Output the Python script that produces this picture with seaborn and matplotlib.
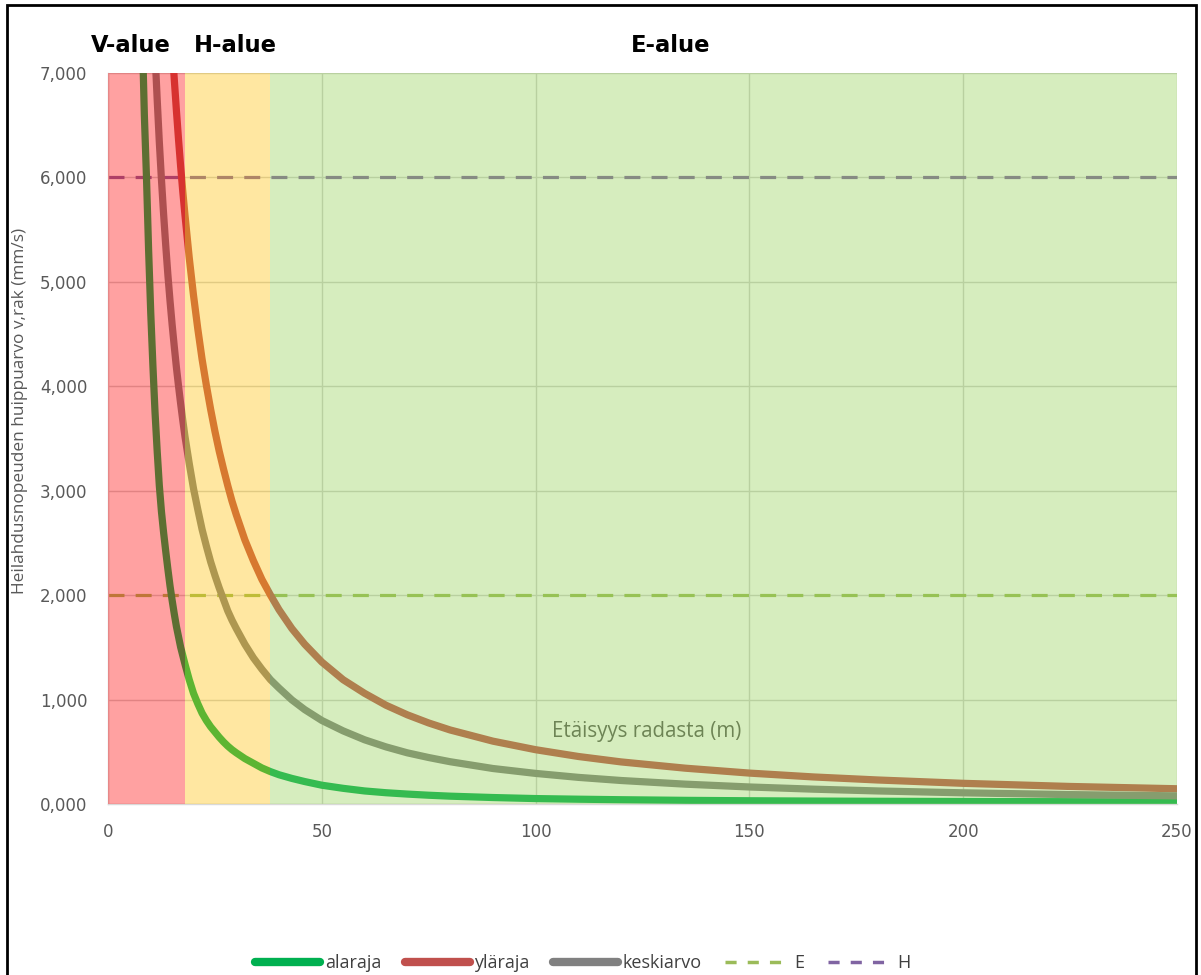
import matplotlib
matplotlib.use("Agg")
import matplotlib.pyplot as plt
import seaborn as sns
import pandas as pd
from matplotlib.lines import Line2D
from matplotlib.patches import Rectangle
from matplotlib.ticker import MultipleLocator

# ---- data ----
distance = [8, 8.5, 9, 9.5, 10, 10.5, 11, 11.5, 12, 12.5, 13, 13.5, 14, 14.5, 15, 15.5,
            16, 16.5, 17, 17.5, 18, 19, 20, 21, 22, 23, 24, 25, 26, 27, 28, 29, 30,
            32, 34, 36, 38, 40, 43, 46, 50, 55, 60, 65, 70, 75, 80,
            90, 100, 110, 120, 135, 150, 165, 180, 200, 225, 250]
alaraja = [7.40, 6.60, 6.00, 5.30, 4.70, 4.20, 3.75, 3.38, 3.05, 2.80, 2.60, 2.42, 2.25,
           2.09, 1.95, 1.82, 1.70, 1.60, 1.50, 1.42, 1.34, 1.19, 1.06, 0.96, 0.87, 0.80,
           0.74, 0.69, 0.64, 0.595, 0.555, 0.52, 0.49,
           0.435, 0.39, 0.345, 0.31, 0.28, 0.245, 0.215, 0.18, 0.15, 0.125, 0.108, 0.095,
           0.084, 0.075,
           0.062, 0.052, 0.046, 0.041, 0.035, 0.031, 0.028, 0.026, 0.024, 0.022, 0.020]
ylaraja = [17.4, 15.99, 14.77, 13.71, 12.76, 11.93, 11.18, 10.51, 9.90, 9.36, 8.86, 8.41,
           7.99, 7.61, 7.26, 6.94, 6.64, 6.36, 6.10, 5.86, 5.64, 5.23, 4.87, 4.55, 4.26,
           4.01, 3.78, 3.57, 3.38, 3.21, 3.05, 2.90, 2.77,
           2.53, 2.33, 2.15, 2.00, 1.86, 1.68, 1.53, 1.36, 1.19, 1.06, 0.946, 0.854,
           0.776, 0.709,
           0.602, 0.520, 0.455, 0.403, 0.343, 0.296, 0.259, 0.230, 0.198, 0.168, 0.146]
keskiarvo = [11.42, 10.45, 9.62, 8.90, 8.26, 7.70, 7.19, 6.75, 6.34, 5.98, 5.65, 5.35,
             5.07, 4.82, 4.59, 4.38, 4.18, 4.00, 3.83, 3.67, 3.52, 3.26, 3.02, 2.82,
             2.63, 2.47, 2.32, 2.19, 2.07, 1.96, 1.85, 1.76, 1.68,
             1.53, 1.40, 1.29, 1.19, 1.11, 0.997, 0.904, 0.80, 0.70, 0.615, 0.547, 0.49,
             0.445, 0.405,
             0.34, 0.293, 0.255, 0.225, 0.190, 0.163, 0.142, 0.125, 0.107, 0.090, 0.078]
series_names = ["alaraja", "yläraja", "keskiarvo"]
series_colors = ["#00B050", "#C0504D", "#808080"]
limit_names = ["E", "H"]
limit_values = [2.0, 6.0]
limit_colors = ["#9BBB59", "#8064A2"]
zone_names = ["V-alue", "H-alue", "E-alue"]
zone_edges = [0, 18, 38, 250]
zone_colors = ["#FF0000", "#FFC000", "#92D050"]
x_ticks = [0, 50, 100, 150, 200, 250]
y_ticks = [0, 1, 2, 3, 4, 5, 6, 7]
y_tick_labels = ["0,000", "1,000", "2,000", "3,000", "4,000", "5,000", "6,000", "7,000"]
x_title = "Etäisyys radasta (m)"
y_title = "Heilahdusnopeuden huippuarvo v,rak (mm/s)"

n = len(distance)
df = pd.DataFrame({
    "distance": distance * 3,
    "value": alaraja + ylaraja + keskiarvo,
    "series": [series_names[0]] * n + [series_names[1]] * n + [series_names[2]] * n,
})

sns.set_style("white")
plt.rcParams["font.family"] = ["DejaVu Sans"]

W, H = 1201, 975
fig = plt.figure(figsize=(W / 100, H / 100), dpi=100)
ax = fig.add_axes([108 / W, 1 - 804 / H, (1177 - 108) / W, (804 - 73) / H])

sns.lineplot(data=df, x="distance", y="value", hue="series", hue_order=series_names,
             palette=dict(zip(series_names, series_colors)), linewidth=5.2,
             legend=False, ax=ax, zorder=2, estimator=None, sort=True)
for ln in ax.lines:
    ln.set_solid_joinstyle("round")
    ln.set_solid_capstyle("round")

for val, col in zip(limit_values, limit_colors):
    ax.axhline(val, color=col, linewidth=2.3, dashes=(5, 3.5), zorder=1.8)

for i, col in enumerate(zone_colors):
    ax.axvspan(zone_edges[i], zone_edges[i + 1], color=col, alpha=0.37, lw=0, zorder=3)

ax.set_xlim(0, 250)
ax.set_ylim(0, 7)
ax.set_xticks(x_ticks)
ax.set_yticks(y_ticks)
ax.set_yticklabels(y_tick_labels)
ax.xaxis.set_minor_locator(MultipleLocator(10))
ax.yaxis.set_minor_locator(MultipleLocator(0.2))
ax.tick_params(axis="both", which="major", direction="in", length=0, colors="#595959",
               labelsize=12, pad=14)
ax.tick_params(axis="x", which="minor", direction="in", length=5, color="#BFBFBF", width=1)
ax.tick_params(axis="y", which="minor", direction="in", length=5, color="#BFBFBF", width=1)
ax.tick_params(axis="y", which="major", pad=15)
ax.grid(True, which="major", color="#D0D0D0", linewidth=1)
ax.set_axisbelow(True)
for s in ["top", "right"]:
    ax.spines[s].set_visible(False)
for s in ["left", "bottom"]:
    ax.spines[s].set_color("#D9D9D9")
    ax.spines[s].set_linewidth(1)
ax.set_xlabel("")
ax.set_ylabel("")

# x-axis title placed inside plot (under the zone overlay)
ax.text(126, 0.695, x_title, color="#595959", fontsize=14.8, family="Open Sans",
        ha="center", va="center", zorder=1.5)

fig.text(20 / W, 1 - 411 / H, y_title, rotation=90, color="#595959", fontsize=12.4,
         family="Open Sans", ha="center", va="center")

zone_label_x = [131, 235, 671]
for name, xp in zip(zone_names, zone_label_x):
    fig.text(xp / W, 1 - 45 / H, name, fontsize=16.3, fontweight="bold", color="black",
             ha="center", va="center")

handles = [Line2D([0], [0], color=c, linewidth=6, solid_capstyle="round") for c in series_colors]
handles += [Line2D([0], [0], color=c, linewidth=2.5, dashes=(3.2, 3.2)) for c in limit_colors]
leg = fig.legend(handles, series_names + limit_names, loc="center", ncol=5,
                 bbox_to_anchor=(583 / W, 1 - 963 / H), frameon=False, handlelength=3.6,
                 handletextpad=0.25, columnspacing=1.3,
                 prop={"family": "Open Sans", "size": 13})
for t in leg.get_texts():
    t.set_color("#404040")

fig.patches.append(Rectangle((7 / W, -0.05), (1196 - 7) / W, 0.05 + 1 - 5 / H,
                             transform=fig.transFigure, fill=False, edgecolor="black",
                             linewidth=2, clip_on=False))

fig.savefig("out.png", dpi=100)
